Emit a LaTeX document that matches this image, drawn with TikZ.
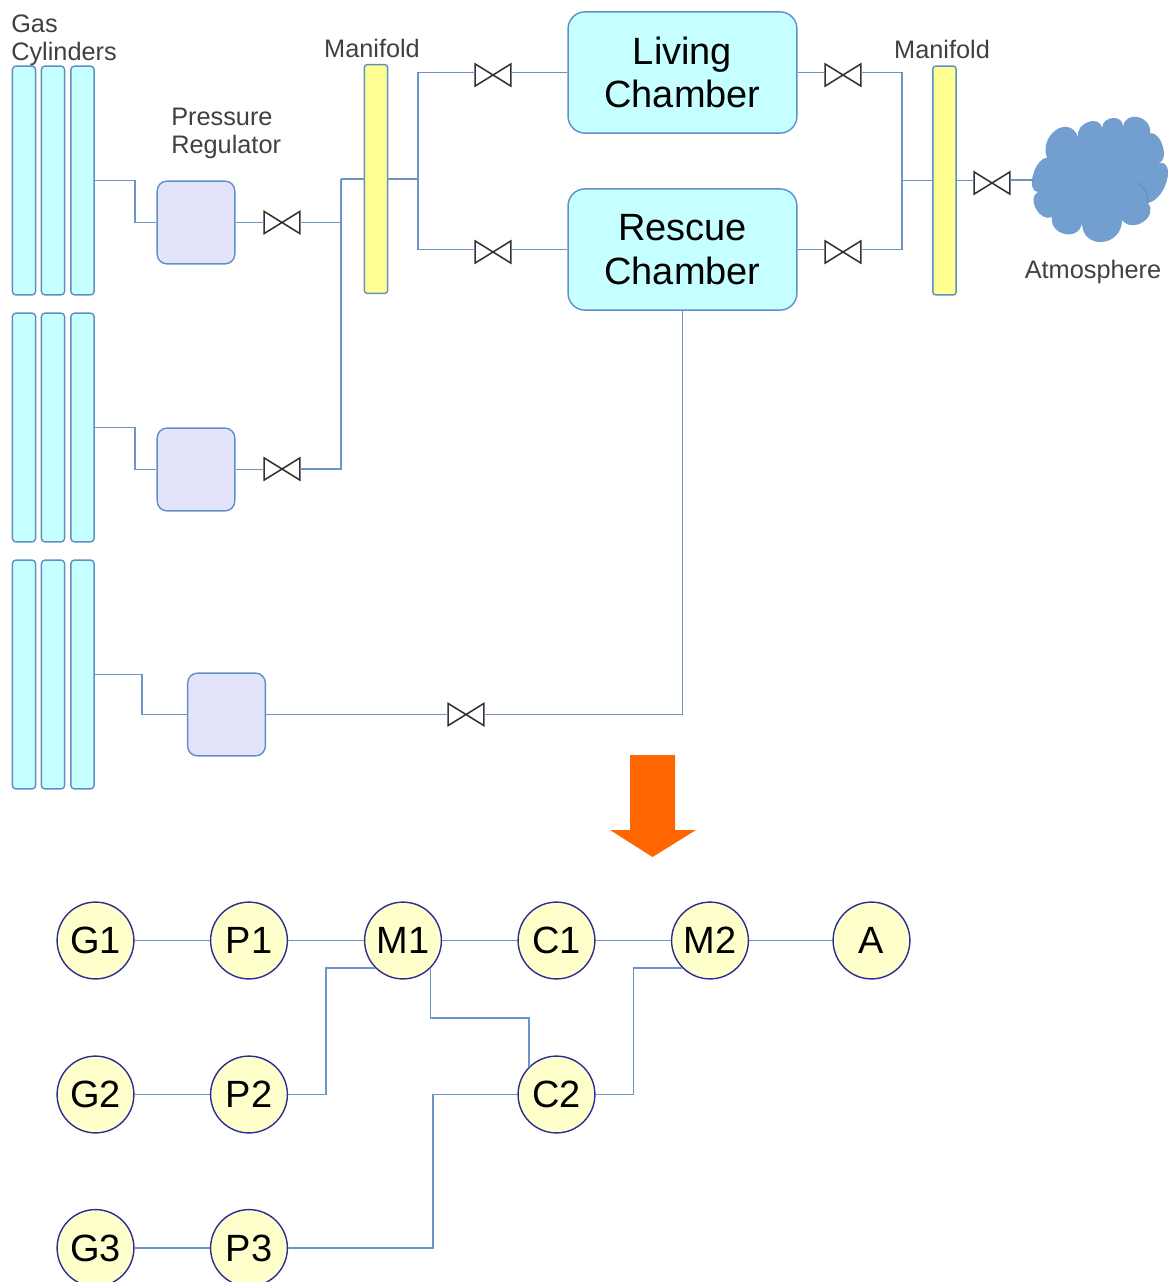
\documentclass[tikz,border=0pt]{standalone}
\usepackage{fontspec}
\setmainfont{Liberation Sans}
\usepackage{tikz}
\definecolor{pipeblue}{HTML}{6E94C6}
\definecolor{edgeblue}{HTML}{5F8FC6}
\definecolor{cylcyan}{HTML}{C6FFFF}
\definecolor{reglilac}{HTML}{E3E3FB}
\definecolor{manyellow}{HTML}{FFFF91}
\definecolor{statecream}{HTML}{FFFFCC}
\definecolor{statenavy}{HTML}{2C2C94}
\definecolor{cloudblue}{HTML}{729FCF}
\definecolor{labelgray}{HTML}{404040}
\definecolor{arroworange}{HTML}{FF6600}
\tikzset{
  pipe/.style={pipeblue,line width=1pt},
  cylbox/.style={draw=edgeblue,fill=cylcyan,rounded corners=2.5pt,line width=1pt,minimum width=0.58cm,minimum height=5.72cm,inner sep=0},
  regbox/.style={draw=edgeblue,fill=reglilac,rounded corners=7pt,line width=1pt,minimum width=1.94cm,minimum height=2.07cm,inner sep=0},
  manbox/.style={draw=edgeblue,fill=manyellow,rounded corners=2pt,line width=1pt,minimum width=0.58cm,minimum height=5.72cm,inner sep=0},
  chamberbox/.style={draw=edgeblue,fill=cylcyan,rounded corners=12pt,line width=1pt,minimum width=5.72cm,minimum height=3.03cm,align=center,font=\fontsize{27}{31}\selectfont},
  valvebox/.style={minimum width=0.88cm,minimum height=0.54cm,inner sep=0},
  valveline/.style={black!80,line width=1.1pt,line join=miter},
  statenode/.style={circle,draw=statenavy,fill=statecream,line width=1pt,minimum size=1.92cm,inner sep=0,font=\fontsize{27}{31}\selectfont},
  tag/.style={align=left,inner sep=0,text=labelgray,font=\fontsize{18}{20}\selectfont}
}
\newcommand{\valve}[2]{%
  \node[valvebox] (#1) at (#2) {};
  \draw[valveline] (#1.south west) -- (#1.north east) -- (#1.south east) -- (#1.north west) -- cycle;
}
\begin{document}
\begin{tikzpicture}[x=0.025cm,y=-0.025cm]
\useasboundingbox (0,0) rectangle (1176,1282);
\foreach \r/\y in {1/180.5,2/427.5,3/674.5}{
  \node[cylbox] (cyl\r1) at (24,\y) {};
  \node[cylbox] (cyl\r2) at (53,\y) {};
  \node[cylbox] (cyl\r3) at (82.5,\y) {};
}
\node[tag,anchor=west] (gastag) at (11,40) {Gas\\Cylinders};
\node[tag,anchor=west] (regtag) at (171,133) {Pressure\\Regulator};
\node[tag] (mantag1) at (372,48) {Manifold};
\node[tag] (mantag2) at (942,49) {Manifold};
\node[tag] (airtag) at (1093,272) {Atmosphere};

\node[regbox] (reg1) at (196,222.5) {};
\node[regbox] (reg2) at (196,469.5) {};
\node[regbox] (reg3) at (226.5,714.5) {};
\node[manbox] (man1) at (376,179) {};
\node[manbox] (man2) at (944.5,180.5) {};
\node[chamberbox] (living) at (682.5,72.5) {Living\\Chamber};
\node[chamberbox] (rescue) at (682.5,249.5) {Rescue\\Chamber};

\fill[cloudblue] (1047,158) .. controls (1038.3,134.7) and (1069.3,113.7) .. (1078,137)
  .. controls (1075.3,123) and (1099.3,114) .. (1102,128)
  .. controls (1102.7,115.3) and (1123.7,114.3) .. (1123,127)
  .. controls (1125,109.7) and (1152,115.7) .. (1150,133)
  .. controls (1162,131.7) and (1170,161.7) .. (1158,163)
  .. controls (1176.7,159) and (1166.7,199) .. (1148,203)
  .. controls (1158.7,217) and (1132.7,234) .. (1122,220)
  .. controls (1122,247.3) and (1082,250.3) .. (1082,223)
  .. controls (1079.3,241.7) and (1049.3,235.7) .. (1052,217)
  .. controls (1040,223) and (1026,198) .. (1038,192)
  .. controls (1025.3,192) and (1034.3,158) .. (1047,158);
\draw[edgeblue,line width=0.8pt] (1138,183) .. controls (1146,188) and (1148,195) .. (1148,203);
\coordinate (air) at (1034,180);

\valve{valve1}{282,222.5}
\valve{valve2}{282,469}
\valve{valve3}{466,714.5}
\valve{valvea}{493,75}
\valve{valveb}{493,252}
\valve{valvec}{843,75}
\valve{valved}{843,252}
\valve{valvee}{992,183}

\coordinate (hubin) at (341,179);
\coordinate (hubl) at (418,179);
\coordinate (hubr) at (902,180.5);

\draw[pipe] (cyl13.east) -- ++(40,0) |- (reg1.west);
\draw[pipe] (cyl23.east) -- ++(40,0) |- (reg2.west);
\draw[pipe] (cyl33.east) -- ++(47,0) |- (reg3.west);
\draw[pipe] (reg1.east) -- (valve1.west |- reg1.east);
\draw[pipe] (reg2.east) -- (valve2.west |- reg2.east);
\draw[pipe] (reg3.east) -- (valve3.west |- reg3.east);
\draw[pipe] (valve1.east) -| (hubin);
\draw[pipe] (valve2.east) -| (hubin);
\draw[pipe] (hubin) -- (man1.west);
\draw[pipe] (man1.east) -- (hubl);
\draw[pipe] (hubl) |- (valvea.west |- living.west);
\draw[pipe] (hubl) |- (valveb.west |- rescue.west);
\draw[pipe] (valvea.east |- living.west) -- (living.west);
\draw[pipe] (valveb.east |- rescue.west) -- (rescue.west);
\draw[pipe] (living.east) -- (valvec.west |- living.east);
\draw[pipe] (rescue.east) -- (valved.west |- rescue.east);
\draw[pipe] (valvec.east |- living.east) -| (hubr);
\draw[pipe] (valved.east |- rescue.east) -| (hubr);
\draw[pipe] (hubr) -- (man2.west);
\draw[pipe] (man2.east) -- (valvee.west |- man2.east);
\draw[pipe] (valvee.east |- air) -- (air);
\draw[pipe] (valve3.east |- reg3.east) -| (rescue.south);

\fill[arroworange] (630,755) -- (675,755) -- (675,830) -- (696,830) -- (652.5,857) -- (610,830) -- (630,830) -- cycle;

\node[statenode] (g1) at (95.5,940.5) {G1};
\node[statenode] (p1) at (249,940.5) {P1};
\node[statenode] (m1) at (403,940.5) {M1};
\node[statenode] (c1) at (556.5,940.5) {C1};
\node[statenode] (m2) at (710,940.5) {M2};
\node[statenode] (a) at (871.5,940.5) {A};
\node[statenode] (g2) at (95.5,1094.5) {G2};
\node[statenode] (p2) at (249,1094.5) {P2};
\node[statenode] (c2) at (556.5,1094.5) {C2};
\node[statenode] (g3) at (95.5,1248) {G3};
\node[statenode] (p3) at (249,1248) {P3};

\draw[pipe] (g1) -- (p1);
\draw[pipe] (p1) -- (m1);
\draw[pipe] (m1) -- (c1);
\draw[pipe] (c1) -- (m2);
\draw[pipe] (m2) -- (a);
\draw[pipe] (g2) -- (p2);
\draw[pipe] (g3) -- (p3);
\draw[pipe] (p2.east) -- ++(38,0) |- (m1.south west);
\draw[pipe] (m1.south east) -- ++(0,50) -| (c2.north west);
\draw[pipe] (c2.east) -- ++(38,0) |- (m2.south west);
\draw[pipe] (p3.east) -- ++(145,0) |- (c2.west);
\end{tikzpicture}
\end{document}
